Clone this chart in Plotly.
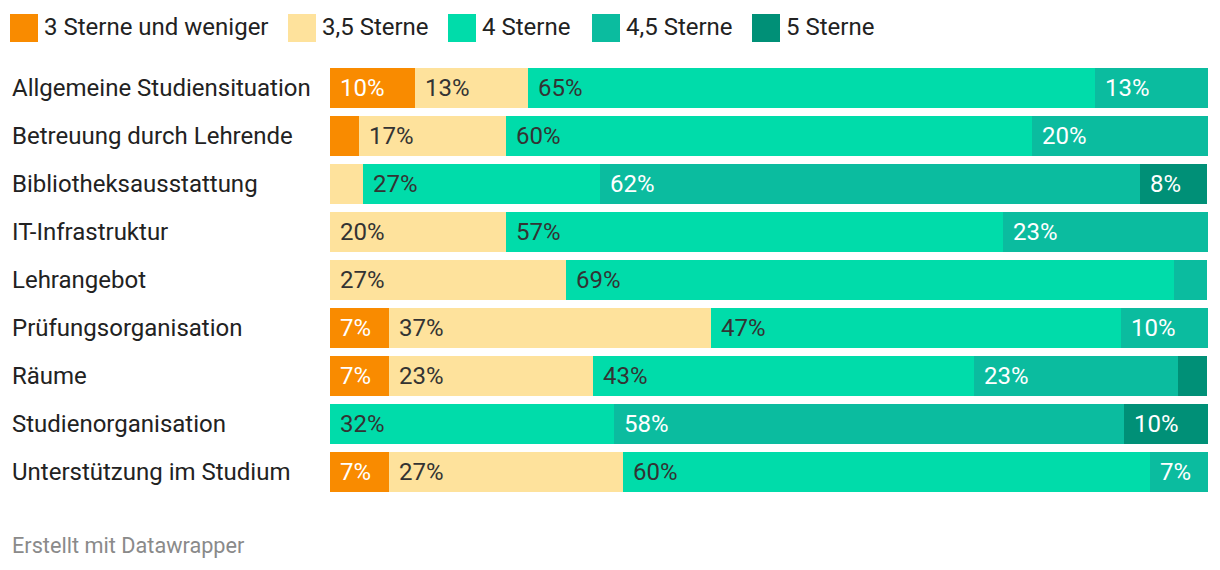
import plotly.graph_objects as go

categories = ["Allgemeine Studiensituation", "Betreuung durch Lehrende", "Bibliotheksausstattung",
              "IT-Infrastruktur", "Lehrangebot", "Prüfungsorganisation", "Räume",
              "Studienorganisation", "Unterstützung im Studium"]
series_names = ["3 Sterne und weniger", "3,5 Sterne", "4 Sterne", "4,5 Sterne", "5 Sterne"]
s3 = [9.7, 3.3, 0, 0, 0, 6.7, 6.7, 0, 6.7]
s35 = [12.9, 16.7, 3.8, 20.0, 26.9, 36.7, 23.3, 0, 26.7]
s4 = [64.5, 60.0, 26.9, 56.7, 69.2, 46.7, 43.3, 32.3, 60.0]
s45 = [12.9, 20.0, 61.5, 23.3, 3.8, 10.0, 23.3, 58.1, 6.7]
s5 = [0, 0, 7.7, 0, 0, 0, 3.3, 9.7, 0]
colors = ["#f98b00", "#fee29c", "#00dcaa", "#0bbc9f", "#009077"]
text_colors = ["#ffffff", "#333333", "#333333", "#ffffff", "#ffffff"]

series = [s3, s35, s4, s45, s5]
OFF = 8  # page body margin
W, H = 1220 - OFF, 570 - OFF
L, T = 330 - OFF, 64 - OFF
R = W - (1208 - OFF)
B = H - (496 - OFF)
pw, ph = W - L - R, H - T - B
FONT = "Roboto"
FS = 24

fig = go.Figure()
for name, vals, col in zip(series_names, series, colors):
    fig.add_trace(go.Bar(y=categories, x=vals, name=name, orientation="h",
                         marker=dict(color=col, line=dict(width=0)), showlegend=False,
                         hoverinfo="x+y"))

annotations = []
for i, cat in enumerate(categories):
    cum = 0
    for vals, tc in zip(series, text_colors):
        v = vals[i]
        if v >= 5:
            annotations.append(dict(x=cum, y=cat, xref="x", yref="y", text=f"{int(v + 0.5)}%",
                                    showarrow=False, xanchor="left", xshift=8,
                                    font=dict(family=FONT, size=FS, color=tc)))
        cum += v
    annotations.append(dict(x=(10 - OFF - L) / pw, y=cat, xref="paper", yref="y", text=cat,
                            showarrow=False, xanchor="left",
                            font=dict(family=FONT, size=FS, color="#222222")))

def px2x(px):
    return (px - OFF - L) / pw

def py2y(py):
    return (H - B - (py - OFF)) / ph

shapes = []
leg_x = [10, 288, 448, 592, 752]
for lx, name, col in zip(leg_x, series_names, colors):
    shapes.append(dict(type="rect", xref="paper", yref="paper", x0=px2x(lx), x1=px2x(lx + 28),
                       y0=py2y(42), y1=py2y(14), fillcolor=col, line=dict(width=0)))
    annotations.append(dict(x=px2x(lx + 32), y=py2y(27), xref="paper", yref="paper", text=name,
                            showarrow=False, xanchor="left", yanchor="middle",
                            font=dict(family=FONT, size=FS, color="#222222")))

annotations.append(dict(x=px2x(10), y=py2y(545), xref="paper", yref="paper",
                        text="Erstellt mit Datawrapper", showarrow=False, xanchor="left",
                        yanchor="middle", font=dict(family=FONT, size=21.7, color="#8a8a8a")))

fig.update_layout(
    width=W, height=H, barmode="stack", bargap=8 / 48,
    margin=dict(l=L, r=R, t=T, b=B),
    plot_bgcolor="white", paper_bgcolor="white",
    xaxis=dict(range=[0, 100], visible=False, fixedrange=True),
    yaxis=dict(autorange="reversed", visible=False, fixedrange=True),
    annotations=annotations, shapes=shapes,
    font=dict(family=FONT),
)

fig.write_html("out.html")
